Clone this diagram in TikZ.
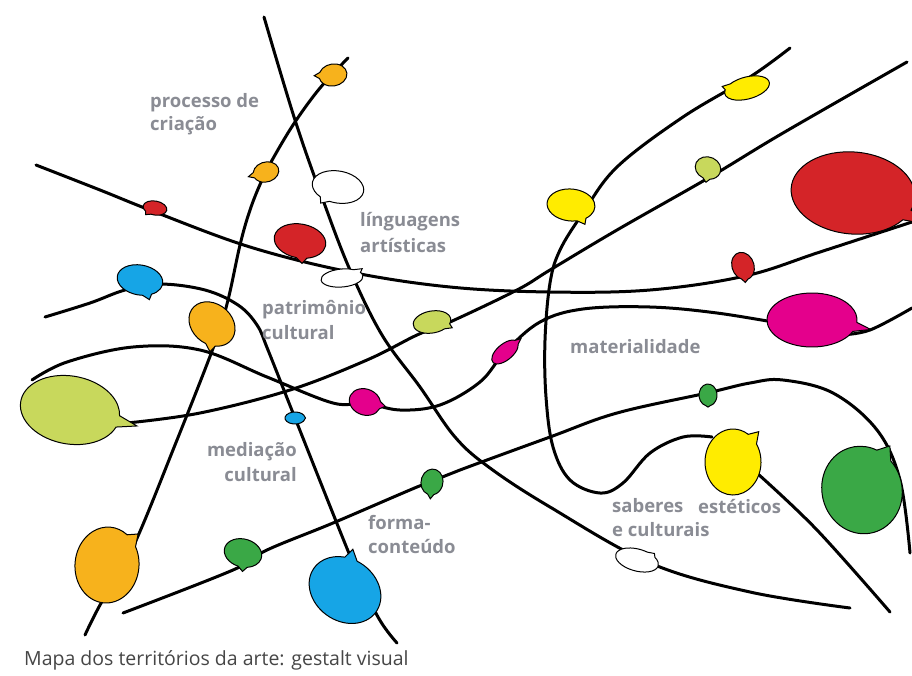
\documentclass[tikz,border=0pt]{standalone}
\usepackage{fontspec}
\setmainfont{Open Sans}
\usetikzlibrary{calc}
\definecolor{cOrange}{RGB}{247,178,28}
\definecolor{cRed}{RGB}{212,36,40}
\definecolor{cBlue}{RGB}{22,165,230}
\definecolor{cLime}{RGB}{200,216,92}
\definecolor{cYellow}{RGB}{255,236,0}
\definecolor{cMagenta}{RGB}{228,0,140}
\definecolor{cGreen}{RGB}{58,168,70}
\definecolor{labelgray}{RGB}{138,140,148}
\definecolor{capgray}{RGB}{70,70,70}
\tikzset{
  curve/.style={line width=3pt, black, line cap=round},
  lbl/.style={text=labelgray, font=\fontsize{18.5}{18.5}\selectfont\bfseries, inner sep=0pt, anchor=west},
  bubline/.style={line width=1pt, draw=black}
}
\newcommand\bub[9]{%
  \begin{scope}[shift={(#1,#2)},rotate=#5]
    \draw[bubline,fill=#9] (#6+#8:#3 and #4) arc[start angle=#6+#8,end angle=#6+360-#8,x radius=#3,y radius=#4] -- (#6:{#3*#7} and {#4*#7}) -- cycle;
  \end{scope}}
\begin{document}
\begin{tikzpicture}[x=1pt,y=-1pt]
\useasboundingbox (0,0) rectangle (912,675);
\fill[white] (0,0) rectangle (912,675);
% A
\draw[curve] plot[smooth,tension=0.6] coordinates {(264,17) (295,120) (323,200) (350,270) (382,335) (420,387) (455,437) (490,468) (550,507) (650,563) (750,592) (850,608)};
% B
\draw[curve] plot[smooth,tension=0.6] coordinates {(348,58) (320,88) (295,122) (275,155) (262,180) (250,210) (240,245) (228,300) (215,343) (175,445) (133,547) (100,605) (85,635)};
% C
\draw[curve] plot[smooth,tension=0.6] coordinates {(36,165) (100,190) (155,212) (250,247) (350,272) (450,287) (550,292) (650,290) (745,276) (820,252) (912,222)};
% D
\draw[curve] plot[smooth,tension=0.6] coordinates {(45,317) (90,303) (125,290) (160,284) (205,290) (238,305) (257,325) (268,350) (295,418) (353,563) (378,617) (397,643)};
% E
\draw[curve] plot[smooth,tension=0.6] coordinates {(32,380) (67,362) (133,347) (200,350) (267,377) (333,403) (365,403) (400,410) (440,405) (480,382) (505,352) (540,322) (583,309) (650,307) (717,313) (790,325)};
\draw[curve] plot[smooth,tension=0.6] coordinates {(840,335) (870,330) (912,308)};
% F
\draw[curve] plot[smooth,tension=0.6] coordinates {(127,423) (200,413) (290,390) (367,360) (417,335) (450,322) (517,290) (550,270) (617,230) (710,177) (783,133) (907,62)};
% G
\draw[curve] plot[smooth,tension=0.6] coordinates {(790,48) (750,77) (683,117) (617,167) (583,213) (560,250) (550,283) (545,340) (546,397) (553,447) (570,480) (600,493) (623,483) (650,453) (683,437) (712,437)};
\draw[curve] plot[smooth,tension=0.6] coordinates {(758,474) (817,530) (890,612)};
% H
\draw[curve] plot[smooth,tension=0.6] coordinates {(123,613) (233,570) (267,550) (333,523) (417,487) (460,470) (550,437) (617,413) (707,393) (750,383) (783,380) (833,393) (877,430) (900,480) (910,553)};
% bubbles
\bub{333}{75}{14}{11}{10}{190}{1.35}{16}{cOrange}
\bub{266}{172}{13}{10}{15}{180}{1.4}{16}{cOrange}
\bub{338}{187}{26}{16}{-10}{115}{1.3}{12}{white}
\bub{155}{208}{12}{7}{-10}{120}{1.35}{16}{cRed}
\bub{300}{241}{26}{17}{-10}{80}{1.3}{12}{cRed}
\bub{342}{278}{21}{9}{5}{320}{1.3}{14}{white}
\bub{140}{280}{23}{15}{-10}{65}{1.3}{12}{cBlue}
\bub{212}{324}{25}{20}{-40}{60}{1.3}{12}{cOrange}
\bub{432}{322}{19}{11}{10}{40}{1.3}{14}{cLime}
\bub{571}{205}{24}{16}{-5}{60}{1.3}{12}{cYellow}
\bub{747}{88}{23}{11}{15}{215}{1.25}{14}{cYellow}
\bub{708}{168}{13}{11}{-20}{80}{1.3}{16}{cLime}
\bub{853}{193}{62}{41}{-5}{25}{1.45}{8}{cRed}
\bub{743}{266}{11}{14}{20}{105}{1.2}{16}{cRed}
\bub{812}{320}{45}{27}{0}{15}{1.35}{10}{cMagenta}
\bub{70}{410}{50}{34}{-10}{5}{1.38}{10}{cLime}
\bub{365}{402}{16}{13}{-20}{-10}{1.3}{16}{cMagenta}
\bub{505}{352}{16}{8}{40}{0}{1.3}{18}{cMagenta}
\bub{295}{418}{10}{6}{0}{0}{1.05}{10}{cBlue}
\bub{432}{482}{11}{13}{-10}{85}{1.3}{16}{cGreen}
\bub{708}{395}{9}{11}{0}{90}{1.1}{14}{cGreen}
\bub{733}{462}{28}{33}{0}{-45}{1.3}{12}{cYellow}
\bub{862}{490}{40}{44}{15}{-40}{1.25}{12}{cGreen}
\bub{637}{560}{22}{11}{-15}{-55}{1.2}{14}{white}
\bub{107}{565}{32}{38}{-5}{-45}{1.25}{12}{cOrange}
\bub{243}{553}{19}{14}{-15}{80}{1.3}{14}{cGreen}
\bub{345}{590}{38}{31}{-35}{-110}{1.3}{10}{cBlue}
% labels
\node[lbl] (l1a) at (150,103) {processo de};
\node[lbl] (l1b) at (150,126) {criação};
\node[lbl] (l2a) at (360,222) {línguagens};
\node[lbl] (l2b) at (360,245) {artísticas};
\node[lbl] (l3a) at (262,310) {patrimônio};
\node[lbl] (l3b) at (262,333) {cultural};
\node[lbl] (l4) at (570,347) {materialidade};
\node[lbl,anchor=east] (l5a) at (297,452) {mediação};
\node[lbl,anchor=east] (l5b) at (297,475) {cultural};
\node[lbl] (l6a) at (368,523) {forma-};
\node[lbl] (l6b) at (368,546) {conteúdo};
\node[lbl] (l7a) at (612,506) {saberes};
\node[lbl] (l7b) at (698,506) {estéticos};
\node[lbl] (l7c) at (612,530) {e culturais};
\node[text=capgray, font=\fontsize{19.5}{19.5}\selectfont, inner sep=0pt, anchor=west] (cap) at (24,660) {Mapa dos territórios da arte: gestalt visual};
\end{tikzpicture}
\end{document}
